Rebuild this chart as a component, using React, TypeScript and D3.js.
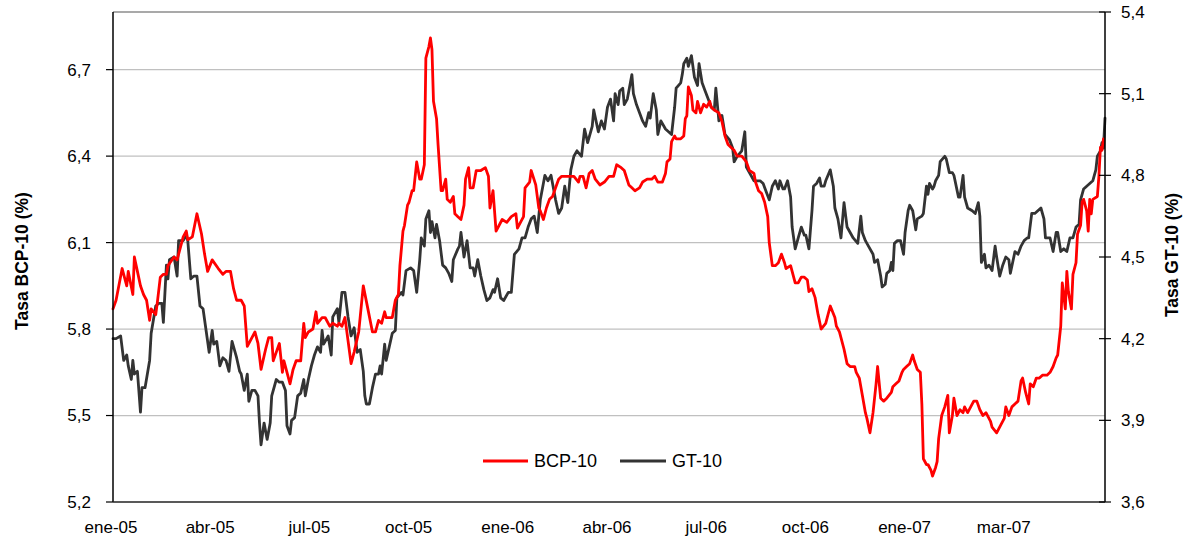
import React from "react";
import * as d3 from "d3";

// ---- data (observation index = business-day count from the first quote) ----
const xLabels = ["ene-05", "abr-05", "jul-05", "oct-05", "ene-06", "abr-06", "jul-06", "oct-06", "ene-07", "mar-07"];
const labelStep = 65; // observations between category labels
const totalObs = 650;
const leftTicks = [5.2, 5.5, 5.8, 6.1, 6.4, 6.7];
const rightTicks = [3.6, 3.9, 4.2, 4.5, 4.8, 5.1, 5.4];
const leftDomain = [5.2, 6.9];
const rightDomain = [3.6, 5.4];

const bcpObs = [0,2,6,9,10,13,14,16,18,20,22,24,25,28,29,31,33,35,36,40,42,44,46,48,49,52,55,58,60,62,65,69,72,74,77,79,81,84,86,88,90,93,95,97,100,102,104,105,107,109,111,112,114,116,118,120,123,125,126,128,131,133,134,137,139,142,144,147,148,150,152,154,156,158,161,164,167,170,172,174,176,178,179,183,185,187,188,190,191,193,194,196,197,199,201,202,204,205,207,208,209,210,212,213,215,216,218,219,221,223,224,226,228,230,231,233,234,236,238,239,241,244,246,247,249,251,255,258,261,264,265,267,269,270,273,274,277,279,280,282,284,286,288,290,292,294,296,299,302,305,306,308,310,312,314,316,319,322,325,328,330,333,335,338,340,342,345,347,350,353,355,357,360,362,363,365,366,368,369,372,374,375,376,377,379,380,382,383,385,387,389,391,392,394,397,399,401,403,405,407,409,411,412,415,417,420,421,423,425,427,429,430,432,434,436,438,440,441,444,445,447,449,451,453,455,456,458,460,462,464,467,469,470,473,474,476,479,481,483,486,487,489,491,493,494,496,498,500,501,503,505,507,510,511,513,515,517,518,520,522,524,525,527,529,530,531,533,534,536,537,539,540,541,543,545,547,548,550,551,553,555,557,558,560,562,564,566,568,570,572,575,576,579,582,584,585,587,589,591,593,595,596,598,600,601,603,605,607,609,612,614,616,618,619,621,622,624,625,626,628,629,631,632,634,635,636,638,639,640,641,642,645,646,647,648,649];
const bcpRate = [5.87,5.90,6.01,5.95,6.00,5.92,6.05,6.00,5.95,5.92,5.90,5.83,5.87,5.85,5.89,5.98,5.99,5.99,6.02,6.05,6.04,6.08,6.12,6.14,6.11,6.12,6.20,6.13,6.06,6.00,6.04,6.01,5.99,6.00,6.00,5.94,5.90,5.90,5.88,5.74,5.76,5.79,5.75,5.66,5.73,5.77,5.77,5.69,5.72,5.75,5.65,5.69,5.65,5.61,5.66,5.69,5.69,5.82,5.77,5.79,5.80,5.86,5.82,5.84,5.84,5.81,5.82,5.81,5.82,5.81,5.84,5.76,5.68,5.72,5.79,5.95,5.87,5.79,5.79,5.83,5.82,5.86,5.84,5.84,5.90,5.92,6.02,6.14,6.16,6.23,6.24,6.28,6.28,6.38,6.32,6.32,6.37,6.74,6.78,6.81,6.77,6.59,6.53,6.44,6.28,6.28,6.32,6.25,6.24,6.26,6.20,6.19,6.18,6.23,6.32,6.36,6.29,6.29,6.35,6.35,6.35,6.36,6.33,6.22,6.28,6.14,6.18,6.17,6.19,6.20,6.15,6.17,6.19,6.29,6.31,6.35,6.30,6.22,6.21,6.18,6.22,6.25,6.26,6.29,6.32,6.33,6.33,6.33,6.33,6.31,6.33,6.33,6.29,6.34,6.35,6.32,6.30,6.31,6.33,6.33,6.37,6.36,6.35,6.30,6.29,6.28,6.29,6.31,6.32,6.32,6.33,6.31,6.31,6.34,6.38,6.39,6.45,6.47,6.46,6.46,6.47,6.53,6.54,6.64,6.61,6.56,6.55,6.59,6.55,6.58,6.57,6.59,6.57,6.56,6.55,6.52,6.47,6.44,6.43,6.42,6.40,6.40,6.40,6.38,6.35,6.34,6.31,6.28,6.27,6.24,6.19,6.10,6.02,6.02,6.03,6.06,6.03,6.01,6.02,6.00,5.96,5.96,5.98,5.98,5.97,5.93,5.94,5.91,5.85,5.80,5.82,5.86,5.88,5.84,5.81,5.79,5.73,5.68,5.67,5.67,5.65,5.63,5.57,5.51,5.49,5.44,5.51,5.61,5.67,5.56,5.55,5.56,5.58,5.60,5.61,5.62,5.65,5.66,5.67,5.68,5.71,5.69,5.66,5.65,5.54,5.35,5.33,5.33,5.31,5.29,5.32,5.34,5.42,5.50,5.53,5.57,5.44,5.50,5.56,5.50,5.52,5.51,5.53,5.51,5.53,5.55,5.55,5.52,5.50,5.51,5.48,5.46,5.44,5.47,5.49,5.53,5.50,5.53,5.54,5.55,5.62,5.63,5.58,5.54,5.61,5.60,5.63,5.63,5.64,5.64,5.65,5.67,5.70,5.71,5.81,5.96,5.87,6.00,5.93,5.87,5.99,6.03,6.13,6.16,6.24,6.25,6.21,6.14,6.25,6.20,6.25,6.26,6.33,6.43,6.42,6.46];

const gtObs = [0,2,5,7,9,10,12,13,14,16,18,19,21,24,25,28,30,32,33,35,36,37,40,42,43,46,48,49,51,53,55,57,59,61,63,65,66,68,70,72,74,76,78,81,83,84,86,88,89,91,93,95,96,97,99,101,103,104,107,109,111,113,114,116,117,119,121,123,125,126,128,130,132,134,136,137,138,141,143,144,147,148,150,152,154,156,158,160,162,164,165,166,168,170,172,174,175,176,178,179,181,183,185,186,189,190,192,195,197,199,201,202,204,205,207,208,209,211,212,214,216,218,220,222,223,226,227,228,230,232,234,236,237,239,241,243,245,247,249,250,252,254,256,259,261,263,266,268,270,272,274,276,278,280,283,285,287,290,292,294,296,298,300,302,304,307,309,311,314,315,318,320,322,324,326,328,329,331,332,334,335,337,338,340,341,343,345,347,349,351,352,354,356,357,359,362,364,366,368,369,372,373,374,376,377,379,381,383,384,386,388,390,392,394,395,397,399,401,404,406,407,409,412,414,415,417,420,422,424,426,428,430,432,434,436,437,439,440,442,444,445,447,449,451,453,454,456,458,459,461,463,464,466,467,470,472,473,475,477,479,481,483,485,488,490,491,493,495,498,499,501,503,504,506,507,509,510,511,512,514,516,518,519,521,522,524,526,527,530,531,533,534,535,537,538,539,541,542,545,546,548,550,551,554,555,557,558,560,563,565,567,568,569,571,572,574,576,578,579,581,583,585,587,588,591,593,595,597,599,600,602,604,606,608,610,611,614,616,618,619,621,623,625,627,629,631,633,634,636,638,640,642,644,645,647,648,649,650];
const gtRate = [4.20,4.20,4.21,4.12,4.14,4.10,4.05,4.12,4.07,4.08,3.93,4.02,4.02,4.12,4.22,4.32,4.33,4.33,4.26,4.47,4.42,4.49,4.50,4.43,4.56,4.56,4.58,4.56,4.42,4.43,4.43,4.32,4.31,4.23,4.15,4.23,4.18,4.19,4.10,4.13,4.12,4.08,4.19,4.13,4.08,4.07,4.01,4.07,3.97,4.01,4.01,3.99,3.89,3.81,3.89,3.83,3.89,3.99,4.05,4.04,4.04,4.01,3.88,3.85,3.90,3.91,3.99,4.00,4.05,3.99,4.05,4.10,4.14,4.17,4.15,4.23,4.18,4.21,4.14,4.28,4.31,4.26,4.37,4.37,4.28,4.21,4.24,4.15,4.16,4.08,3.99,3.96,3.96,4.02,4.07,4.07,4.10,4.07,4.18,4.12,4.17,4.22,4.23,4.35,4.37,4.36,4.45,4.46,4.45,4.37,4.49,4.57,4.54,4.64,4.67,4.59,4.63,4.57,4.62,4.56,4.47,4.46,4.44,4.41,4.49,4.53,4.54,4.59,4.50,4.56,4.46,4.46,4.43,4.49,4.43,4.38,4.34,4.35,4.38,4.37,4.42,4.35,4.34,4.37,4.37,4.51,4.53,4.57,4.57,4.61,4.64,4.65,4.59,4.71,4.80,4.78,4.80,4.71,4.66,4.68,4.76,4.70,4.82,4.87,4.89,4.87,4.97,4.92,4.98,5.04,4.96,5.00,4.97,5.05,5.08,5.00,5.10,5.06,5.11,5.12,5.06,5.08,5.11,5.17,5.10,5.06,5.03,5.00,4.98,5.03,5.01,5.10,5.04,4.95,5.00,4.97,4.96,4.95,5.05,5.12,5.14,5.17,5.21,5.23,5.20,5.24,5.16,5.13,5.21,5.14,5.11,5.08,5.05,5.04,5.12,5.00,5.02,4.95,4.93,4.90,4.85,4.87,4.89,4.96,4.83,4.81,4.78,4.78,4.78,4.77,4.74,4.71,4.76,4.78,4.75,4.78,4.75,4.75,4.78,4.72,4.61,4.53,4.57,4.61,4.58,4.58,4.53,4.67,4.76,4.77,4.79,4.76,4.76,4.78,4.82,4.76,4.68,4.64,4.57,4.70,4.61,4.59,4.57,4.55,4.65,4.59,4.56,4.54,4.51,4.48,4.49,4.43,4.39,4.40,4.44,4.45,4.48,4.45,4.55,4.56,4.56,4.51,4.59,4.67,4.69,4.67,4.60,4.64,4.65,4.66,4.76,4.73,4.77,4.75,4.76,4.78,4.80,4.85,4.87,4.86,4.81,4.81,4.80,4.72,4.72,4.80,4.72,4.68,4.67,4.66,4.70,4.65,4.48,4.51,4.46,4.47,4.45,4.54,4.50,4.43,4.47,4.50,4.49,4.44,4.52,4.51,4.54,4.56,4.57,4.57,4.66,4.66,4.67,4.68,4.64,4.57,4.57,4.52,4.59,4.59,4.52,4.53,4.52,4.57,4.57,4.61,4.62,4.71,4.75,4.76,4.77,4.78,4.82,4.87,4.89,4.92,4.90,5.01];

const series = [
  { name: "BCP-10", obs: bcpObs, rate: bcpRate, axis: "left", color: "#ff0000" },
  { name: "GT-10", obs: gtObs, rate: gtRate, axis: "right", color: "#333333" },
];

// ---- layout ----
const W = 1187;
const H = 543;
const M = { left: 113, right: 82, top: 12, bottom: 41 };
const FONT = "Arial, 'Liberation Sans', Helvetica, sans-serif";
const fmt = (v: number) => v.toFixed(1).replace(".", ",");

export default function App() {
  const x = d3.scaleLinear().domain([0, totalObs]).range([M.left, W - M.right]);
  const yL = d3.scaleLinear().domain(leftDomain).range([H - M.bottom, M.top]);
  const yR = d3.scaleLinear().domain(rightDomain).range([H - M.bottom, M.top]);
  const x0 = M.left;
  const x1 = W - M.right;
  const yb = H - M.bottom;
  const yt = M.top;

  const paths = series.map((s) => {
    const ys = s.axis === "left" ? yL : yR;
    const pts = s.obs.map((o, i) => [o, s.rate[i]] as [number, number]);
    const line = d3
      .line<[number, number]>()
      .x((d) => x(d[0]))
      .y((d) => ys(d[1]));
    return { ...s, d: line(pts) || "" };
  });

  const legendY = 461;

  return (
    <div style={{ position: "fixed", left: 0, top: 0, width: W, height: H, background: "#fff" }}>
      <svg width={W} height={H} style={{ display: "block" }} fontFamily={FONT}>
        <rect x={0} y={0} width={W} height={H} fill="#fff" />
        {/* gridlines */}
        {leftTicks.slice(1).map((t) => (
          <line key={"g" + t} x1={x0} x2={x1} y1={yL(t)} y2={yL(t)} stroke="#c0c0c0" strokeWidth={1.2} />
        ))}
        {/* top border */}
        <line x1={x0} x2={x1} y1={yt} y2={yt} stroke="#8c8c8c" strokeWidth={1.5} />
        {/* series */}
        {paths
          .slice()
          .reverse()
          .map((p) => (
            <path key={p.name} d={p.d} fill="none" stroke={p.color} strokeWidth={2.8} strokeLinejoin="round" strokeLinecap="round" />
          ))}
        {/* axes */}
        <line x1={x0} x2={x0} y1={yt} y2={yb} stroke="#000" strokeWidth={1.5} />
        <line x1={x1} x2={x1} y1={yt} y2={yb} stroke="#000" strokeWidth={1.5} />
        <line x1={x0} x2={x1} y1={yb} y2={yb} stroke="#222" strokeWidth={1.5} />
        {leftTicks.map((t) => (
          <g key={"l" + t}>
            <line x1={x0 - 7} x2={x0} y1={yL(t)} y2={yL(t)} stroke="#000" strokeWidth={1.2} />
            <text x={91} y={yL(t)} dy="0.35em" textAnchor="end" fontSize={17} fill="#000">
              {fmt(t)}
            </text>
          </g>
        ))}
        {rightTicks.map((t) => (
          <g key={"r" + t}>
            <line x1={x1 - 6} x2={x1 + 6} y1={yR(t)} y2={yR(t)} stroke="#000" strokeWidth={1.2} />
            <text x={1121} y={yR(t)} dy="0.35em" textAnchor="start" fontSize={17} fill="#000">
              {fmt(t)}
            </text>
          </g>
        ))}
        {xLabels.map((lab, i) => (
          <text key={lab} x={x(i * labelStep) - 2} y={533} textAnchor="middle" fontSize={17} fill="#000">
            {lab}
          </text>
        ))}
        {/* axis titles */}
        <text
          transform={`translate(22,${(yt + yb) / 2 + 4}) rotate(-90)`}
          textAnchor="middle"
          dy="0.35em"
          fontSize={17.5}
          fontWeight="bold"
          fill="#000"
        >
          Tasa BCP-10 (%)
        </text>
        <text
          transform={`translate(1172,${(yt + yb) / 2 - 2}) rotate(-90)`}
          textAnchor="middle"
          dy="0.35em"
          fontSize={17.5}
          fontWeight="bold"
          fill="#000"
        >
          Tasa GT-10 (%)
        </text>
        {/* legend */}
        <line x1={483} x2={528} y1={legendY} y2={legendY} stroke={series[0].color} strokeWidth={3} />
        <text x={534} y={legendY} dy="0.35em" fontSize={18} fill="#000">
          {series[0].name}
        </text>
        <line x1={620} x2={666} y1={legendY} y2={legendY} stroke={series[1].color} strokeWidth={3} />
        <text x={672} y={legendY} dy="0.35em" fontSize={18} fill="#000">
          {series[1].name}
        </text>
      </svg>
    </div>
  );
}
